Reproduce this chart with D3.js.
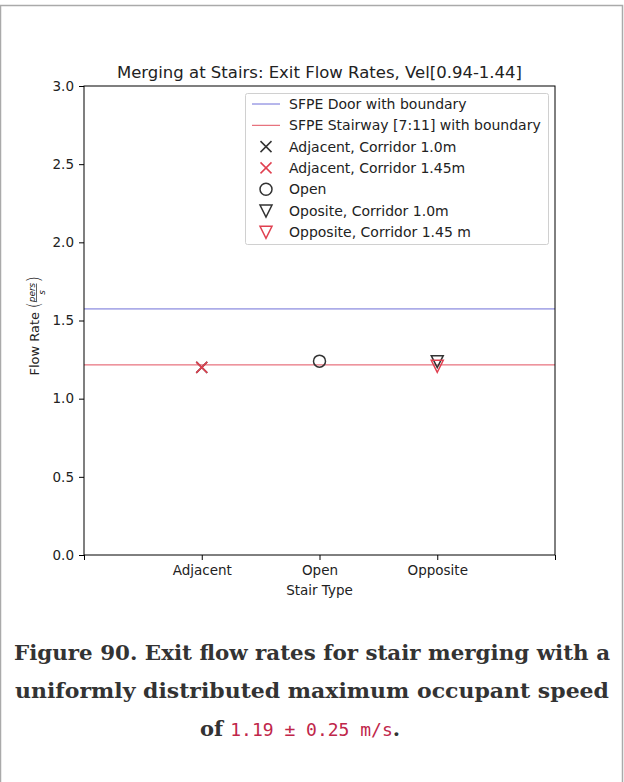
<!DOCTYPE html>
<html><head><meta charset="utf-8">
<script src="https://cdn.jsdelivr.net/npm/d3@7"></script>
<style>
html,body{margin:0;padding:0;background:#fff;}
</style></head>
<body>
<script>
const categories = ["Adjacent", "Open", "Opposite"];
const xTickLabels = ["", "Adjacent", "Open", "Opposite", ""];
const yTicks = [0.0, 0.5, 1.0, 1.5, 2.0, 2.5, 3.0];
const sfpeDoor = 1.574;
const sfpeStair = 1.216;
const seriesNames = ["Adjacent, Corridor 1.0m","Adjacent, Corridor 1.45m","Open","Oposite, Corridor 1.0m","Opposite, Corridor 1.45 m"];
const seriesCategory = ["Adjacent","Adjacent","Open","Opposite","Opposite"];
const seriesValues = [1.20, 1.20, 1.24, 1.24, 1.21];
const seriesShapes = ["x","x","o","v","v"];
const seriesColors = ["#333","#e04050","#333","#333","#e04050"];
const lineNames = ["SFPE Door with boundary","SFPE Stairway [7:11] with boundary"];
const lineValues = [sfpeDoor, sfpeStair];
const lineColors = ["#6f6fd8","#e2505e"];

const W = 624, H = 782;
const svg = d3.select("body").append("svg").attr("width", W).attr("height", H);
svg.append("rect").attr("width",W).attr("height",H).attr("fill","#fff");
svg.append("path").attr("d","M0.5,782 V5.5 H622.5 V782").attr("fill","none").attr("stroke","#aaa").attr("stroke-width",1.5);

const L = 84, R = 555, T = 86, B = 555;
const x = d3.scaleLinear().domain([0, 4]).range([L, R]);
const y = d3.scaleLinear().domain([0, 3]).range([B, T]);
const font = "DejaVu Sans";

svg.selectAll(".ref").data(lineValues).join("line")
  .attr("x1", L).attr("x2", R).attr("y1", d => y(d)).attr("y2", d => y(d))
  .attr("stroke", (d,i) => lineColors[i]).attr("stroke-width", 1);

const yAxis = d3.axisLeft(y).tickValues(yTicks).tickFormat(d3.format(".1f")).tickSize(5).tickPadding(5);
const gy = svg.append("g").attr("transform", `translate(${L},0)`).call(yAxis);
const xAxis = d3.axisBottom(x).tickValues([0,1,2,3,4]).tickFormat((d,i) => xTickLabels[i]).tickSize(5).tickPadding(5);
const gx = svg.append("g").attr("transform", `translate(0,${B})`).call(xAxis);
[gx, gy].forEach(g => {
  g.select(".domain").remove();
  g.selectAll("line").attr("stroke","#000").attr("stroke-width",1);
  g.selectAll("text").attr("font-family", font).attr("font-size", 13.5).attr("fill","#222");
});
svg.append("rect").attr("x", L).attr("y", T).attr("width", R-L).attr("height", B-T)
  .attr("fill","none").attr("stroke","#000").attr("stroke-width",1);

function drawMarker(g, shape, cx, cy, color, s) {
  if (shape === "x") {
    g.append("path").attr("d", `M${cx-s},${cy-s}L${cx+s},${cy+s}M${cx-s},${cy+s}L${cx+s},${cy-s}`)
      .attr("stroke", color).attr("stroke-width", 1.5).attr("fill","none");
  } else if (shape === "o") {
    g.append("circle").attr("cx", cx).attr("cy", cy).attr("r", s+0.5)
      .attr("stroke", color).attr("stroke-width", 1.5).attr("fill","none");
  } else {
    g.append("path").attr("d", `M${cx-s-0.5},${cy-s}L${cx+s+0.5},${cy-s}L${cx},${cy+s+1}Z`)
      .attr("stroke", color).attr("stroke-width", 1.5).attr("fill","none");
  }
}
const mg = svg.append("g");
seriesValues.forEach((v, i) => {
  drawMarker(mg, seriesShapes[i], x(categories.indexOf(seriesCategory[i]) + 1), y(v), seriesColors[i], 5.5);
});

svg.append("text").attr("x", (L+R)/2).attr("y", 78).attr("text-anchor","middle")
  .attr("font-family", font).attr("font-size", 16.5).attr("fill","#222")
  .text("Merging at Stairs: Exit Flow Rates, Vel[0.94-1.44]");

svg.append("text").attr("x", (L+R)/2).attr("y", 595).attr("text-anchor","middle")
  .attr("font-family", font).attr("font-size", 13.5).attr("fill","#222").text("Stair Type");

// y label with fraction
const yl = svg.append("g").attr("transform", `translate(39,${(T+B)/2 - 2}) rotate(-90)`)
  .attr("font-family", font).attr("fill","#222");
yl.append("text").attr("x", -57).attr("y", 0).attr("font-size", 13).text("Flow Rate");
yl.append("text").attr("x", 10).attr("y", 1).attr("font-size", 17).attr("font-weight","100").text("(");
yl.append("text").attr("x", 26).attr("y", -4).attr("font-size", 9).attr("font-style","italic").attr("text-anchor","middle").text("pers");
yl.append("line").attr("x1", 17).attr("x2", 35).attr("y1", -2.5).attr("y2", -2.5).attr("stroke","#222").attr("stroke-width",0.7);
yl.append("text").attr("x", 26).attr("y", 6).attr("font-size", 9).attr("font-style","italic").attr("text-anchor","middle").text("s");
yl.append("text").attr("x", 36).attr("y", 1).attr("font-size", 17).attr("font-weight","100").text(")");

// legend
const lg = svg.append("g");
lg.append("rect").attr("x", 245.5).attr("y", 93.5).attr("width", 303).attr("height", 151).attr("rx", 2)
  .attr("fill","#fff").attr("stroke","#d0d0d0").attr("stroke-width",1);
const legendItems = lineNames.map((n,i) => ({name:n, kind:"line", color: lineColors[i]}))
  .concat(seriesNames.map((n,i) => ({name:n, kind:seriesShapes[i], color: seriesColors[i]})));
legendItems.forEach((d, i) => {
  const cy = 104 + i * 21.3;
  if (d.kind === "line") {
    lg.append("line").attr("x1", 252).attr("x2", 280).attr("y1", cy).attr("y2", cy).attr("stroke", d.color).attr("stroke-width",1);
  } else {
    drawMarker(lg, d.kind, 266, cy, d.color, 5.5);
  }
  lg.append("text").attr("x", 289).attr("y", cy + 5).attr("font-family", font).attr("font-size", 14)
    .attr("fill","#222").text(d.name);
});

// caption
const cap = svg.append("g").attr("font-family","DejaVu Serif").attr("font-weight","bold").attr("fill","#333").attr("font-size", 21);
cap.append("text").attr("x", 312).attr("y", 660).attr("text-anchor","middle").attr("textLength", 596).attr("lengthAdjust","spacingAndGlyphs")
  .text("Figure 90. Exit flow rates for stair merging with a");
cap.append("text").attr("x", 312).attr("y", 698).attr("text-anchor","middle").attr("textLength", 594).attr("lengthAdjust","spacingAndGlyphs")
  .text("uniformly distributed maximum occupant speed");
const l3 = cap.append("text").attr("x", 300).attr("y", 736).attr("text-anchor","middle");
l3.append("tspan").text("of ");
l3.append("tspan").attr("font-family","DejaVu Sans Mono").attr("font-weight","normal")
  .attr("fill","#c0264a").attr("font-size", 18).text("1.19 ± 0.25 m/s");
l3.append("tspan").text(".");
</script>
</body></html>
